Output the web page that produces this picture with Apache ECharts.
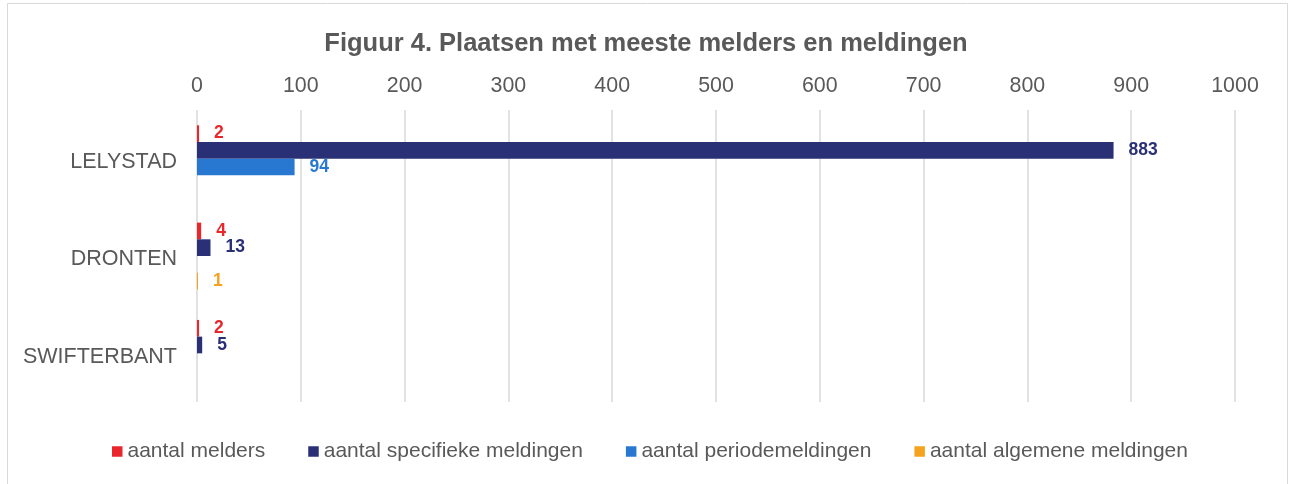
<!DOCTYPE html>
<html>
<head>
<meta charset="utf-8">
<script src="https://cdn.jsdelivr.net/npm/echarts@6/dist/echarts.min.js"></script>
<style>html,body{margin:0;padding:0;background:#fff;}#c{width:1292px;height:484px;}</style>
</head>
<body>
<div id="c"></div>
<script>
var categories = ['LELYSTAD', 'DRONTEN', 'SWIFTERBANT'];
var seriesNames = ['aantal melders', 'aantal specifieke meldingen', 'aantal periodemeldingen', 'aantal algemene meldingen'];
var melders = [2, 4, 2];
var specifiekeMeldingen = [883, 13, 5];
var periodeMeldingen = [94, null, null];
var algemeneMeldingen = [null, 1, null];
var xTicks = [0, 1000, 100];
var colors = ['#E8262B', '#2A3076', '#2878D2', '#F5A31F'];

var font = '"Liberation Sans", Arial, sans-serif';
var values = [melders, specifiekeMeldingen, periodeMeldingen, algemeneMeldingen];

var chart = echarts.init(document.getElementById('c'));
chart.setOption({
  animation: false,
  backgroundColor: '#fff',
  color: colors,
  graphic: [{
    type: 'rect',
    shape: {x: 7.5, y: 3.5, width: 1280, height: 500},
    style: {fill: 'none', stroke: '#d9d9d9', lineWidth: 1},
    silent: true
  }],
  title: {
    text: 'Figuur 4. Plaatsen met meeste melders en meldingen',
    left: 'center',
    top: 26,
    textStyle: {fontFamily: font, fontSize: 25.5, fontWeight: 'bold', color: '#595959'}
  },
  legend: {
    left: 112,
    top: 441,
    padding: 0,
    itemWidth: 10.5,
    itemHeight: 10.5,
    itemGap: 43,
    icon: 'rect',
    textStyle: {fontFamily: font, fontSize: 21, color: '#595959'},
    data: seriesNames
  },
  grid: {left: 197, right: 57, top: 110, bottom: 82, containLabel: false},
  xAxis: {
    type: 'value',
    position: 'top',
    min: xTicks[0],
    max: xTicks[1],
    interval: xTicks[2],
    axisLine: {show: false},
    axisTick: {show: false},
    axisLabel: {fontFamily: font, fontSize: 21.4, color: '#595959', margin: 13,
      formatter: function (v) { return String(v); }},
    splitLine: {show: true, lineStyle: {color: '#d9d9d9', width: 1.5}}
  },
  yAxis: {
    type: 'category',
    inverse: true,
    data: categories,
    axisLine: {show: false},
    axisTick: {show: false},
    axisLabel: {
      margin: 20,
      formatter: function (v) { return '{c|' + v + '}'; },
      rich: {c: {fontFamily: font, fontSize: 21.5, color: '#595959', padding: [7, 0, 0, 0]}}
    }
  },
  series: seriesNames.map(function (name, i) {
    return {
      name: name,
      type: 'bar',
      data: values[i],
      barGap: '0%',
      barCategoryGap: '31.4%',
      itemStyle: {color: colors[i]},
      label: {
        show: true,
        position: 'right',
        distance: 15,
        fontFamily: font,
        fontSize: 17.5,
        fontWeight: 'bold',
        color: colors[i]
      }
    };
  })
});
</script>
</body>
</html>
